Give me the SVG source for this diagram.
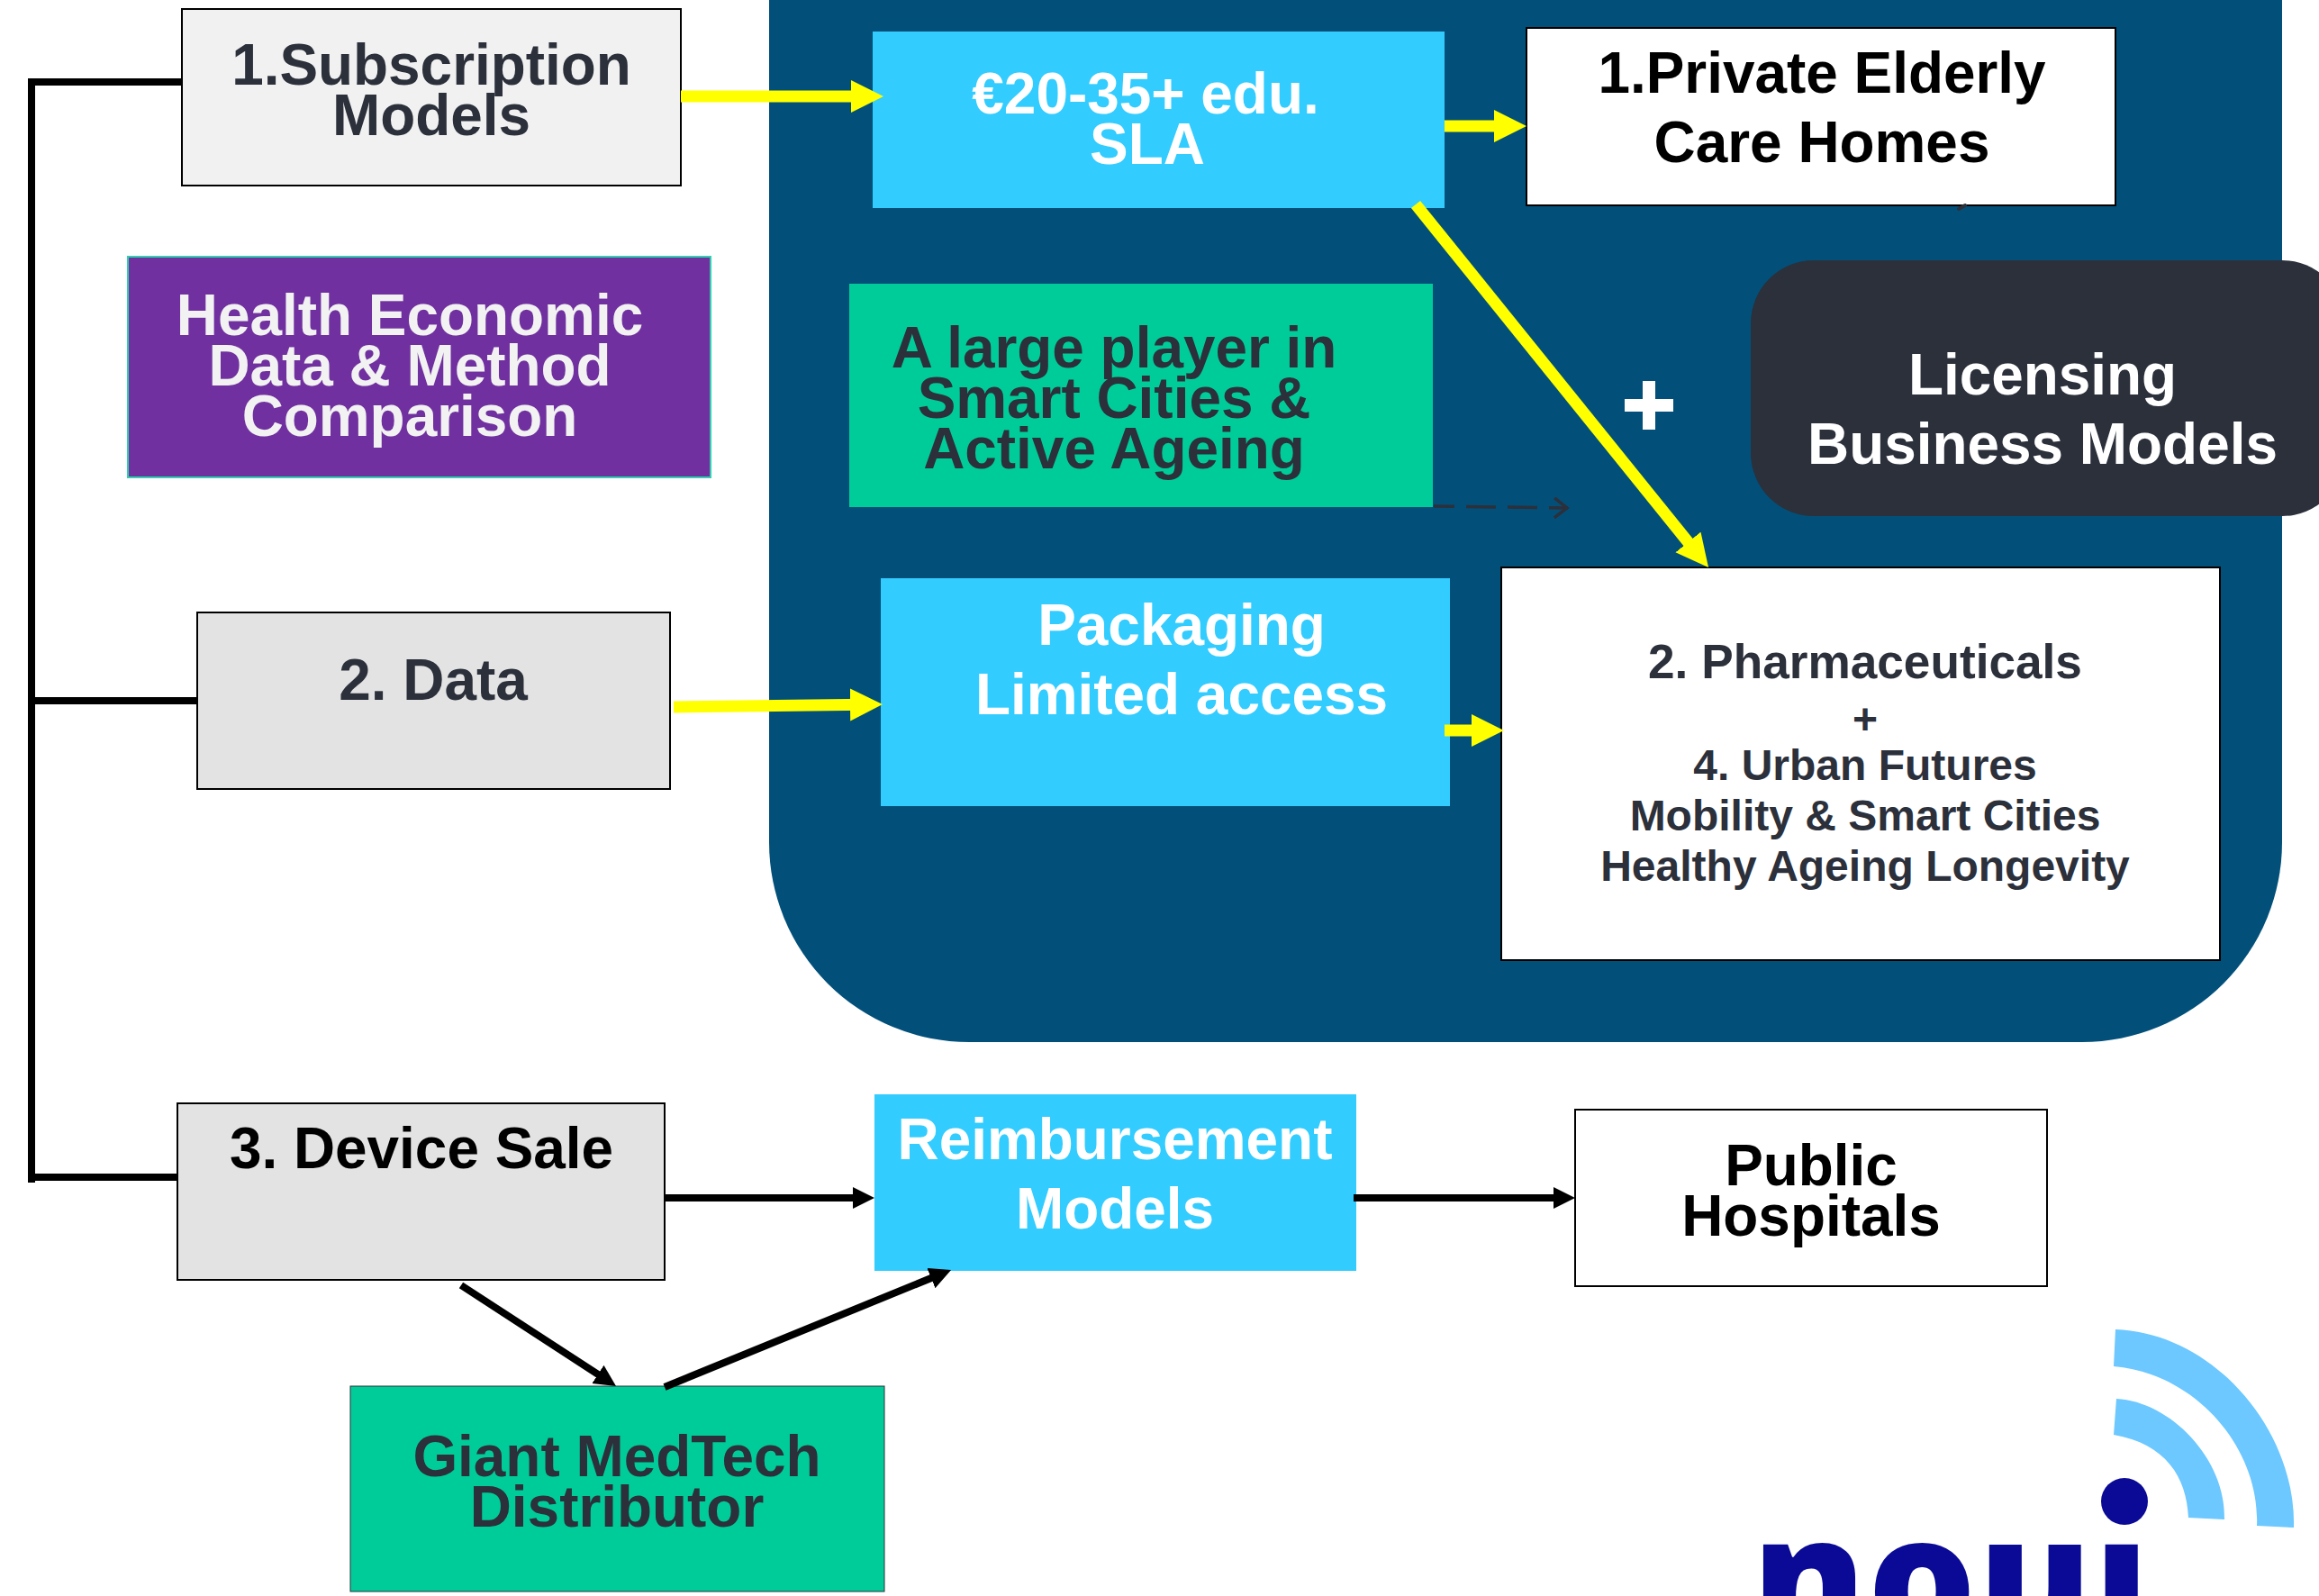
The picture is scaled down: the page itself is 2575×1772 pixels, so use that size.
<svg xmlns="http://www.w3.org/2000/svg" width="2575" height="1772" viewBox="0 0 2575 1772">
<style>
text{font-family:"Liberation Sans",Arial,sans-serif;font-weight:700;text-anchor:middle;font-size:63.9px}
.d{fill:#2b303b}.w{fill:#fff}.k{fill:#000}.o{fill:#f2f2f2}
.box{stroke:#000;stroke-width:2}
.blue{fill:#33ccff}.green{fill:#00cc99}.grey{fill:#e3e3e3}
.y{stroke:#ffff00;stroke-width:13;fill:none}
.b{stroke:#000;stroke-width:8;fill:none}
</style>
<defs>
<marker id="ya" markerUnits="userSpaceOnUse" markerWidth="40" markerHeight="40" refX="16" refY="18" orient="auto"><path d="M0,0L36,18L0,36Z" fill="#ffff00"/></marker>
<marker id="ka" markerUnits="userSpaceOnUse" markerWidth="30" markerHeight="30" refX="12" refY="12" orient="auto"><path d="M0,0L24,12L0,24Z" fill="#000"/></marker>
<marker id="da" markerUnits="userSpaceOnUse" markerWidth="30" markerHeight="30" refX="24" refY="12" orient="auto"><path d="M9,1L23,12L9,23" fill="none" stroke="#2b303b" stroke-width="3.5"/></marker>
<clipPath id="logotext"><rect x="1900" y="1705" width="600" height="67"/></clipPath>
</defs>
<g id="panel"><rect x="854" y="-225" width="1680" height="1382" rx="222" fill="#02507a"/></g>
<g id="n-subscription"><rect class="box" x="202" y="10" width="554" height="196" fill="#f1f1f1"/><text class="d" x="479" y="94">1.Subscription</text><text class="d" x="479" y="150">Models</text></g>
<g id="n-health"><rect x="142" y="285" width="647" height="245" fill="#70309f" stroke="#2fcfb0" stroke-width="2"/><text class="o" x="455" y="372">Health Economic</text><text class="o" x="455" y="428">Data &amp; Method</text><text class="o" x="455" y="484">Comparison</text></g>
<g id="n-data"><rect class="box grey" x="219" y="680" width="525" height="196"/><text class="d" x="481" y="777">2. Data</text></g>
<g id="n-device"><rect class="box grey" x="197" y="1225" width="541" height="196"/><text class="k" x="468" y="1297">3. Device Sale</text></g>
<g id="n-distributor"><rect class="green" x="389" y="1539" width="593" height="228" stroke="#2b303b" stroke-width="1"/><text class="d" x="685" y="1639">Giant MedTech</text><text class="d" x="685" y="1695">Distributor</text></g>
<g id="n-sla"><rect class="blue" x="969" y="35" width="635" height="196"/><text class="w" x="1272" y="126">€20-35+ edu.</text><text class="w" x="1274" y="182">SLA</text></g>
<g id="n-care"><rect class="box w" x="1695" y="31" width="654" height="197"/><text class="k" x="2023" y="103">1.Private Elderly</text><text class="k" x="2023" y="180">Care Homes</text></g>
<g id="n-smart"><rect class="green" x="943" y="315" width="648" height="248"/><text class="d" x="1237" y="408">A large player in</text><text class="d" x="1237" y="464">Smart Cities &amp;</text><text class="d" x="1237" y="520">Active Ageing</text></g>
<g id="n-licensing"><rect x="1944" y="289" width="660" height="284" rx="70" class="d"/><text class="w" x="2268" y="438">Licensing</text><text class="w" x="2268" y="515">Business Models</text></g>
<g id="n-packaging"><rect class="blue" x="978" y="642" width="632" height="253"/><text class="w" x="1312" y="716">Packaging</text><text class="w" x="1312" y="793">Limited access</text></g>
<g id="n-pharma"><rect class="box w" x="1667" y="630" width="798" height="436"/><text class="d" style="font-size:53.2px" x="2071" y="753">2. Pharmaceuticals</text><text class="d" style="font-size:48px" x="2071" y="815">+</text><text class="d" style="font-size:48px" x="2071" y="866">4. Urban Futures</text><text class="d" style="font-size:48px" x="2071" y="922">Mobility &amp; Smart Cities</text><text class="d" style="font-size:48px" x="2071" y="978">Healthy Ageing Longevity</text></g>
<g id="n-reimb"><rect class="blue" x="971" y="1215" width="535" height="196"/><text class="w" x="1238" y="1287">Reimbursement</text><text class="w" x="1238" y="1364">Models</text></g>
<g id="n-public"><rect class="box w" x="1749" y="1232" width="524" height="196"/><text class="k" x="2011" y="1316">Public</text><text class="k" x="2011" y="1372">Hospitals</text></g>
<g id="n-plus"><path class="w" d="M1824,423h14v20h20v14h-20v20h-14v-20h-20v-14h20z"/></g>
<g id="connectors">
<path class="b" d="M202,91H35V1313M35,778H219M35,1307H197"/>
<path class="y" marker-end="url(#ya)" d="M756,107H961"/>
<path class="y" marker-end="url(#ya)" d="M1604,140H1675"/>
<path class="y" marker-end="url(#ya)" d="M748,785L960,782.3"/>
<path class="y" marker-end="url(#ya)" d="M1604,811H1650"/>
<path class="y" marker-end="url(#ya)" d="M1572,227L1884.5,614.4"/>
<path class="b" marker-end="url(#ka)" d="M738,1330H959"/>
<path class="b" marker-end="url(#ka)" d="M1503,1330H1737"/>
<path class="b" marker-end="url(#ka)" d="M512,1427L674,1532.4"/>
<path class="b" marker-end="url(#ka)" d="M738,1540L1045,1414.5"/>
<path d="M1592,562L1741,564" stroke="#2b303b" stroke-width="3.5" stroke-dasharray="23 13 33 13 33 13 40" fill="none" marker-end="url(#da)"/>
<path d="M2175,232L2182,228" stroke="#2b303b" stroke-width="4" stroke-linecap="round" fill="none"/>
</g>
<g id="logo">
<path fill="#6cc8ff" d="M2349,1476C2460,1480 2550,1590 2547,1696L2506,1694C2510,1610 2440,1525 2347,1517Z"/>
<path fill="#6cc8ff" d="M2350,1553C2410,1556 2472,1620 2470,1687L2430,1685C2428,1640 2405,1603 2347,1593Z"/>
<text x="2167" y="1820" clip-path="url(#logotext)" style="font-family:'Open Sans',sans-serif;font-size:189px;font-weight:800;fill:#0a0a96;letter-spacing:2px">noui</text>
<ellipse cx="2359" cy="1667" rx="26" ry="26" fill="#0a0a96"/>
</g>
</svg>
